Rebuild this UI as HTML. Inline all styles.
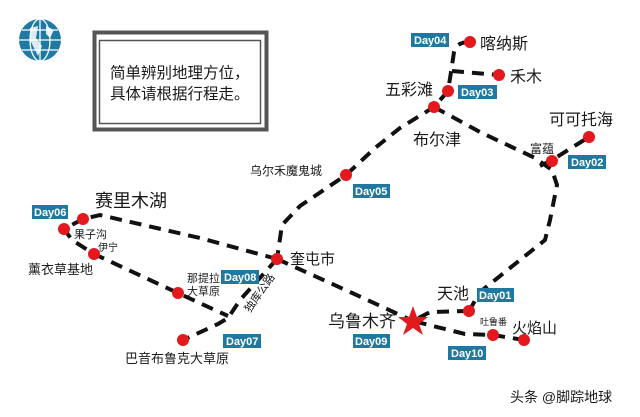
<!DOCTYPE html>
<html><head><meta charset="utf-8"><style>
html,body{margin:0;padding:0;background:#fff;}
svg{display:block;}
text{font-family:"Liberation Sans","Noto Sans CJK SC",sans-serif;fill:#1a1a1a;}
.d{fill:#fff;font-size:11px;font-weight:bold;}
.b{fill:#1f78a0;}
.p{fill:none;stroke:#111;stroke-width:4;stroke-dasharray:12 8;}
.n{fill:#e3191e;}
</style></head><body>
<svg width="640" height="417" viewBox="0 0 640 417">
<rect width="640" height="417" fill="#fff"/>
<!-- globe -->
<circle cx="40" cy="40" r="21" fill="#1f7aa3"/>
<g stroke="#fff" stroke-width="1.3" fill="none">
<line x1="19" y1="40" x2="61" y2="40"/><line x1="40" y1="19" x2="40" y2="61"/>
<ellipse cx="40" cy="40" rx="10" ry="21"/><line x1="22" y1="30" x2="58" y2="30"/><line x1="22" y1="50" x2="58" y2="50"/>
</g>
<path d="M30 28 L38 26 L36 38 L42 46 L38 56 L34 48 L30 40Z M46 26 L54 30 L50 38 L46 34Z" fill="#fff" opacity="0.85"/>
<!-- box -->
<rect x="94.5" y="32.5" width="172" height="97" fill="none" stroke="#555" stroke-width="4"/>
<rect x="99.5" y="40.5" width="161" height="83" fill="none" stroke="#555" stroke-width="1.5"/>
<text x="110" y="78" font-size="15.5" fill="#333">简单辨别地理方位，</text>
<text x="110" y="99" font-size="15.5" fill="#333">具体请根据行程走。</text>
<!-- paths -->
<path class="p" d="M470 42 Q456 42 454 52 L451 72 L448 91"/>
<path class="p" d="M452 71 L499 75"/>
<path class="p" d="M448 91 L434 107 L400 128 L375 148 L346 175 L300 206 L282 225 L277 259"/>
<path class="p" d="M434 107 L480 132 L535 158 L552 170 L557 185 L550 220 L545 240 L520 260 L480 292 L469 311"/>
<path class="p" d="M540 166 L552 160 L589 137"/>
<path class="p" d="M469 311 L430 312 L413 321 L465 334 L493 335 L524 340"/>
<path class="p" d="M277 259 L350 292 L413 321"/>
<path class="p" d="M277 259 L200 238 L100 215 L83 219 L64 229 L72 240 L94 254 L178 293 L228 316"/>
<path class="p" d="M277 259 L240 300 L228 318 L218 324 L183 340"/>
<!-- nodes -->
<g class="n">
<circle cx="470" cy="42" r="6"/><circle cx="499" cy="75" r="6"/><circle cx="448" cy="91" r="6"/>
<circle cx="434" cy="107" r="6"/><circle cx="589" cy="137" r="6"/><circle cx="552" cy="161" r="6"/>
<circle cx="346" cy="175" r="6"/><circle cx="83" cy="219" r="6"/><circle cx="64" cy="229" r="6"/>
<circle cx="94" cy="254" r="6"/><circle cx="178" cy="293" r="6"/><circle cx="277" cy="259" r="6"/>
<circle cx="183" cy="340" r="6"/><circle cx="469" cy="311" r="6"/><circle cx="493" cy="335" r="6"/>
<circle cx="524" cy="340" r="6"/>
<polygon points="413,306 417,317 428,317 419,324 423,335 413,328 403,335 407,324 398,317 409,317"/>
</g>
<!-- day boxes -->
<g>
<rect class="b" x="411" y="33" width="38" height="14"/><text class="d" x="414" y="44">Day04</text>
<rect class="b" x="458" y="85" width="39" height="14"/><text class="d" x="461" y="96">Day03</text>
<rect class="b" x="568" y="155" width="38" height="14"/><text class="d" x="571" y="166">Day02</text>
<rect class="b" x="353" y="184" width="37" height="14"/><text class="d" x="355" y="195">Day05</text>
<rect class="b" x="32" y="205" width="36" height="14"/><text class="d" x="34" y="216">Day06</text>
<rect class="b" x="221" y="270" width="38" height="14"/><text class="d" x="224" y="281">Day08</text>
<rect class="b" x="223" y="334" width="38" height="14"/><text class="d" x="226" y="345">Day07</text>
<rect class="b" x="477" y="288" width="37" height="14"/><text class="d" x="479" y="299">Day01</text>
<rect class="b" x="353" y="334" width="37" height="14"/><text class="d" x="355" y="345">Day09</text>
<rect class="b" x="448" y="346" width="38" height="14"/><text class="d" x="451" y="357">Day10</text>
</g>
<!-- labels -->
<text x="480" y="49" font-size="16">喀纳斯</text>
<text x="510" y="82" font-size="16">禾木</text>
<text x="385" y="95" font-size="16">五彩滩</text>
<text x="413" y="145" font-size="16">布尔津</text>
<text x="549" y="125" font-size="16">可可托海</text>
<text x="530" y="153" font-size="12">富蕴</text>
<text x="250" y="175" font-size="12">乌尔禾魔鬼城</text>
<text x="95" y="207" font-size="18">赛里木湖</text>
<text x="74" y="238" font-size="11">果子沟</text>
<text x="98" y="251" font-size="10">伊宁</text>
<text x="28" y="274" font-size="13">薰衣草基地</text>
<text x="187" y="282" font-size="11">那提拉</text>
<text x="187" y="295" font-size="11">大草原</text>
<text x="290" y="264" font-size="15">奎屯市</text>
<text x="0" y="0" font-size="11" transform="translate(250,313) rotate(-55)">独库公路</text>
<text x="125" y="363" font-size="13">巴音布鲁克大草原</text>
<text x="437" y="299" font-size="16">天池</text>
<text x="328" y="327" font-size="17">乌鲁木齐</text>
<text x="480" y="325" font-size="9">吐鲁番</text>
<text x="512" y="333" font-size="15">火焰山</text>
<text x="510" y="402" font-size="14" fill="#444">头条 @脚踪地球</text>
</svg>
</body></html>
